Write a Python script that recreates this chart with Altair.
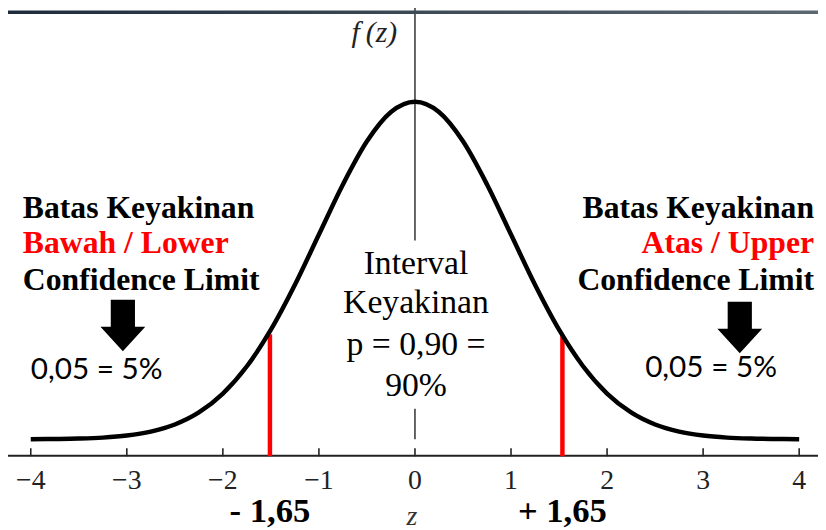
import altair as alt
import pandas as pd

# ---- data ----
z_vals = [-4.0, -3.75, -3.5, -3.25, -3.0, -2.75, -2.5, -2.25, -2.0, -1.75, -1.5, -1.25,
          -1.0, -0.75, -0.5, -0.25, 0.0, 0.25, 0.5, 0.75, 1.0, 1.25, 1.5, 1.75,
          2.0, 2.25, 2.5, 2.75, 3.0, 3.25, 3.5, 3.75, 4.0]
f_vals = [0.0001, 0.0004, 0.0009, 0.0020, 0.0044, 0.0091, 0.0175, 0.0317, 0.0540, 0.0863,
          0.1295, 0.1826, 0.2420, 0.3011, 0.3521, 0.3867, 0.3989, 0.3867, 0.3521, 0.3011,
          0.2420, 0.1826, 0.1295, 0.0863, 0.0540, 0.0317, 0.0175, 0.0091, 0.0044, 0.0020,
          0.0009, 0.0004, 0.0001]
tick_vals = [-4, -3, -2, -1, 0, 1, 2, 3, 4]
tick_labels = ["\u22124", "\u22123", "\u22122", "\u22121", "0", "1", "2", "3", "4"]
limit_z = [-1.51, 1.535]
limit_f = [0.124, 0.122]
limit_labels = ["- 1,65", "+ 1,65"]
vline_lo = [0.0, 0.235]
vline_hi = [0.036, 0.51]

left_lines = ["Batas Keyakinan", "Bawah / Lower", "Confidence Limit"]
right_lines = ["Batas Keyakinan", "Atas / Upper", "Confidence Limit"]
line_colors = ["#000000", "#ff0000", "#000000"]
interval_lines = ["Interval", "Keyakinan", "p = 0,90 =", "90%"]
tail_text = "0,05 = 5%"
y_title = "f\u2009(z)"
x_title = "z"

# ---- layout ----
W, H = 818, 450
x_scale = alt.Scale(domain=[-4.237, 4.196], nice=False, zero=False)
y_scale = alt.Scale(domain=[-0.0199, 0.5066], nice=False, zero=False)

curve_df = pd.DataFrame({"z": z_vals, "f": f_vals})
limit_df = pd.DataFrame({"z": limit_z, "f": limit_f, "label": limit_labels})
tick_df = pd.DataFrame({"z": tick_vals, "label": tick_labels})
vline_df = pd.DataFrame({"z": [0, 0], "lo": vline_lo, "hi": vline_hi})
one = alt.Data(values=[{}])

SERIF = "Liberation Serif"
X = alt.X("z:Q", scale=x_scale, axis=None)

curve = alt.Chart(curve_df).mark_line(
    color="black", strokeWidth=4.5, interpolate="monotone"
).encode(x=X, y=alt.Y("f:Q", scale=y_scale, axis=None))

axis_line = alt.Chart(one).mark_rule(color="#222222", strokeWidth=2).encode(
    x=alt.value(0), x2=alt.value(W), y=alt.value(H - 0.5)
)

ticks = alt.Chart(tick_df).mark_rule(color="#222222", strokeWidth=1.6).encode(
    x=X, y=alt.value(H), y2=alt.value(H - 8)
)

tick_text = alt.Chart(tick_df).mark_text(
    font=SERIF, fontSize=28, color="#222222", align="center", baseline="alphabetic"
).encode(x=X, y=alt.value(H + 33), text="label:N")

vlines = alt.Chart(vline_df).mark_rule(color="#222222", strokeWidth=1.4).encode(
    x=X, y=alt.Y("lo:Q", scale=y_scale, axis=None), y2="hi:Q"
)

red = alt.Chart(limit_df).mark_rule(color="#ff0000", strokeWidth=4.5).encode(
    x=X, y=alt.Y("f:Q", scale=y_scale, axis=None), y2=alt.value(H)
)

limit_text = alt.Chart(limit_df).mark_text(
    font=SERIF, fontSize=35, fontWeight="bold", color="black", align="center",
    baseline="alphabetic"
).encode(x=X, y=alt.value(516), text="label:N")

band = alt.Chart(one).mark_rect(
    color=alt.Gradient(gradient="linear",
                       stops=[alt.GradientStop(color="#1d2b3b", offset=0),
                              alt.GradientStop(color="#5b6771", offset=1)],
                       x1=0, x2=1, y1=0, y2=0)
).encode(x=alt.value(0), x2=alt.value(W), y=alt.value(0), y2=alt.value(3.5))


def label(t, x, y, size, color="black", weight="normal", font=SERIF,
          align="center", style="normal"):
    return alt.Chart(one).mark_text(
        fontSize=size, color=color, fontWeight=weight, font=font, align=align,
        baseline="alphabetic", fontStyle=style
    ).encode(x=alt.value(x), y=alt.value(y), text=alt.value(t))


arrow_path = "M -0.47 -1 L 0.47 -1 L 0.47 0.05 L 0.87 0.05 L 0 1 L -0.87 0.05 L -0.47 0.05 Z"


def arrow(x, y):
    return alt.Chart(one).mark_point(
        shape=arrow_path, size=2704, filled=True, color="black", opacity=1, strokeWidth=0
    ).encode(x=alt.value(x), y=alt.value(y))


texts = []
block_y = [209, 245, 282]
for t, c, yy in zip(left_lines, line_colors, block_y):
    texts.append(label(t, 15, yy, 32, color=c, weight="bold", align="left"))
for t, c, yy in zip(right_lines, line_colors, block_y):
    texts.append(label(t, 814, yy, 32, color=c, weight="bold", align="right"))
for t, yy in zip(interval_lines, [266, 305, 348, 389]):
    texts.append(label(t, 412, yy, 34))
texts.append(label(tail_text, 89.5, 372, 30, font="Lato"))
texts.append(label(tail_text, 710, 370, 30, font="Lato"))
texts.append(label(y_title, 370, 32, 30, color="#222222", style="italic"))
texts.append(label(x_title, 408, 520, 28, color="#333333", style="italic"))

chart = alt.layer(
    axis_line, ticks, tick_text, vlines, red, curve, limit_text, *texts,
    arrow(116, 318), arrow(739, 320), band
).properties(
    width=W, height=H,
    autosize=alt.AutoSizeParams(type="none"),
    padding={"left": 0, "top": 0, "right": 0, "bottom": 72},
    background="white",
).configure_view(stroke=None)

chart.save("out.html", embed_options={"renderer": "svg", "actions": False})
